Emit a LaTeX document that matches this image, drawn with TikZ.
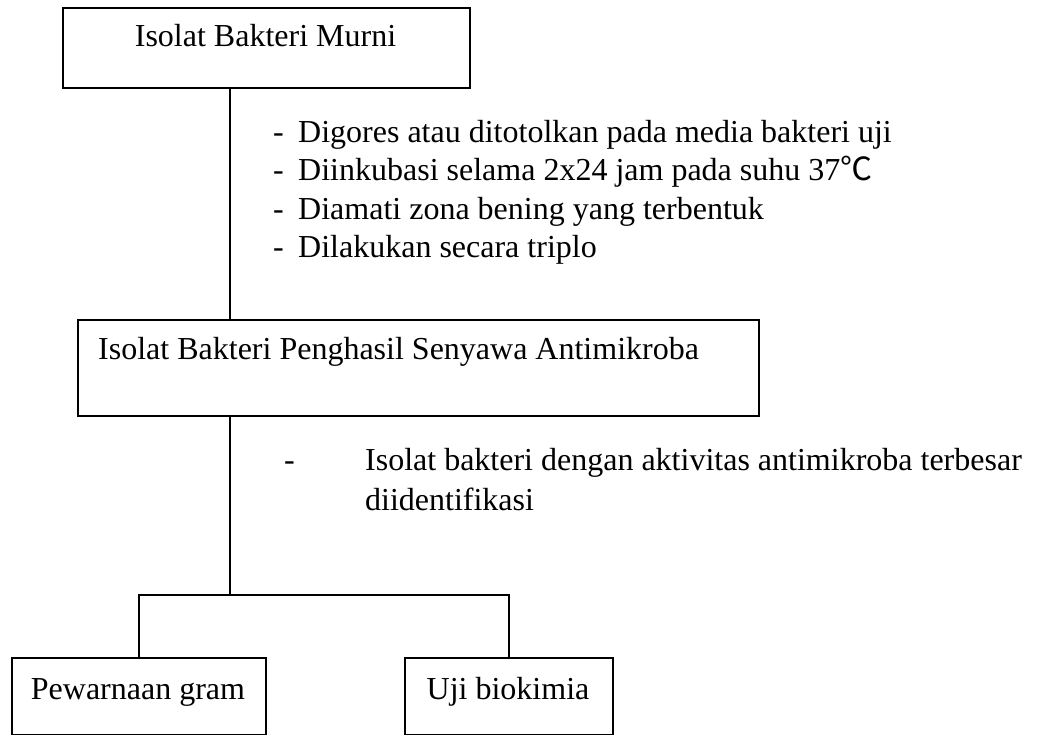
\documentclass[tikz,border=0pt]{standalone}
\usepackage{fontspec}
\setmainfont{Liberation Serif}
\newfontfamily\cjk{Noto Sans CJK SC}
\begin{document}
\begin{tikzpicture}[x=1pt,y=-1pt]
\tikzset{
  boxshape/.style={draw, rectangle, line width=2.4pt, inner sep=0pt, anchor=north west},
  link/.style={line width=1.8pt},
  txt/.style={font=\fontsize{32}{38}\selectfont, inner sep=0pt, anchor=base west},
}
\useasboundingbox (0,0) rectangle (1037,735);

% boxes
\node[boxshape, minimum width=407, minimum height=80] (b1) at (62,7) {};
\node[boxshape, minimum width=681, minimum height=96] (b2) at (77,319) {};
\node[boxshape, minimum width=254, minimum height=77] (b3) at (11,657) {};
\node[boxshape, minimum width=208, minimum height=77] (b4) at (404,657) {};

% box texts
\node[txt, anchor=base] (t1) at (265.5,47) {Isolat Bakteri Murni};
\node[txt] (t2) at (98,360) {Isolat Bakteri Penghasil Senyawa Antimikroba};
\node[txt, anchor=base] (t3) at (138,699) {Pewarnaan gram};
\node[txt, anchor=base] (t4) at (508,699) {Uji biokimia};

% first list of steps
\node[txt] (d1) at (273,143) {-};
\node[txt] (l1) at (298,143) {Digores atau ditotolkan pada media bakteri uji};
\node[txt] (d2) at (273,181) {-};
\node[txt] (l2) at (298,181) {Diinkubasi selama 2x24 jam pada suhu 37{\cjk ℃}};
\node[txt] (d3) at (273,220) {-};
\node[txt] (l3) at (298,220) {Diamati zona bening yang terbentuk};
\node[txt] (d4) at (273,258) {-};
\node[txt] (l4) at (298,258) {Dilakukan secara triplo};

% second step
\node[txt, anchor=base east] (m1) at (1022,470) {Isolat bakteri dengan aktivitas antimikroba terbesar};
\node[txt] (m2) at ([yshift=-40pt]m1.base west) {diidentifikasi};
\node[txt, anchor=base east] (dm) at ([xshift=-70pt]m1.base west) {-};

% connectors
\coordinate (stem) at (230,0);
\coordinate (fork) at (230,595);
\draw[link] (b1.south -| stem) -- (b2.north -| stem);
\draw[link] (b2.south -| stem) -- (fork);
\draw[link] (b3.north) |- (fork) -| (b4.north);
\end{tikzpicture}
\end{document}
